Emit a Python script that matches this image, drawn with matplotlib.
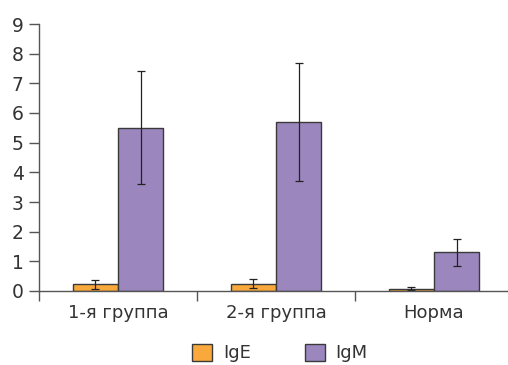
import numpy as np
import matplotlib.pyplot as plt

plt.rcParams['font.family'] = ['DejaVu Sans']

# данные
groups = ['1-я группа', '2-я группа', 'Норма']
ige = [0.22, 0.25, 0.07]
ige_err = [0.16, 0.15, 0.05]
igm = [5.5, 5.7, 1.3]
igm_err = [1.9, 2.0, 0.45]

c_ige = '#f9a93b'
c_igm = '#9b86be'

fig = plt.figure(figsize=(5.08, 3.65), dpi=100)
ax = fig.add_axes([39/508, 74/365, 474/508, 267/365])

x = np.arange(len(groups))
w = 0.285
ax.bar(x - w/2, ige, w, color=c_ige, edgecolor='#3a3a3a', linewidth=1.0, label='IgE')
ax.bar(x + w/2, igm, w, color=c_igm, edgecolor='#3a3a3a', linewidth=1.0, label='IgM')
ax.errorbar(x - w/2, ige, yerr=ige_err, fmt='none', ecolor='#222222', elinewidth=0.9, capsize=2.6, capthick=0.9)
ax.errorbar(x + w/2, igm, yerr=igm_err, fmt='none', ecolor='#222222', elinewidth=0.9, capsize=2.6, capthick=0.9)

ax.set_xlim(-0.5, len(groups) - 0.5)
ax.set_ylim(0, 9)
ax.set_yticks(range(10))
ax.set_xticks(x)
ax.set_xticklabels(groups)
ax.set_xticks(np.arange(len(groups)) - 0.5, minor=True)
ax.tick_params(axis='x', which='major', length=0, pad=9, labelsize=13, labelcolor='#333333')
ax.tick_params(axis='x', which='minor', length=7, width=1, color='#555555', direction='out')
ax.tick_params(axis='y', length=7, width=1, color='#555555', labelsize=13.5, labelcolor='#333333', pad=4)

for s in ['top', 'right']:
    ax.spines[s].set_visible(False)
for s in ['left', 'bottom']:
    ax.spines[s].set_color('#555555')
    ax.spines[s].set_linewidth(1.0)

fig.legend(loc='center', bbox_to_anchor=(280/508, 1 - 353/365), ncol=2, frameon=False,
           fontsize=13, handlelength=1.1, handleheight=1.1, columnspacing=3.0,
           handletextpad=0.6, labelcolor='#333333')

fig.savefig('out.png', dpi=100)
